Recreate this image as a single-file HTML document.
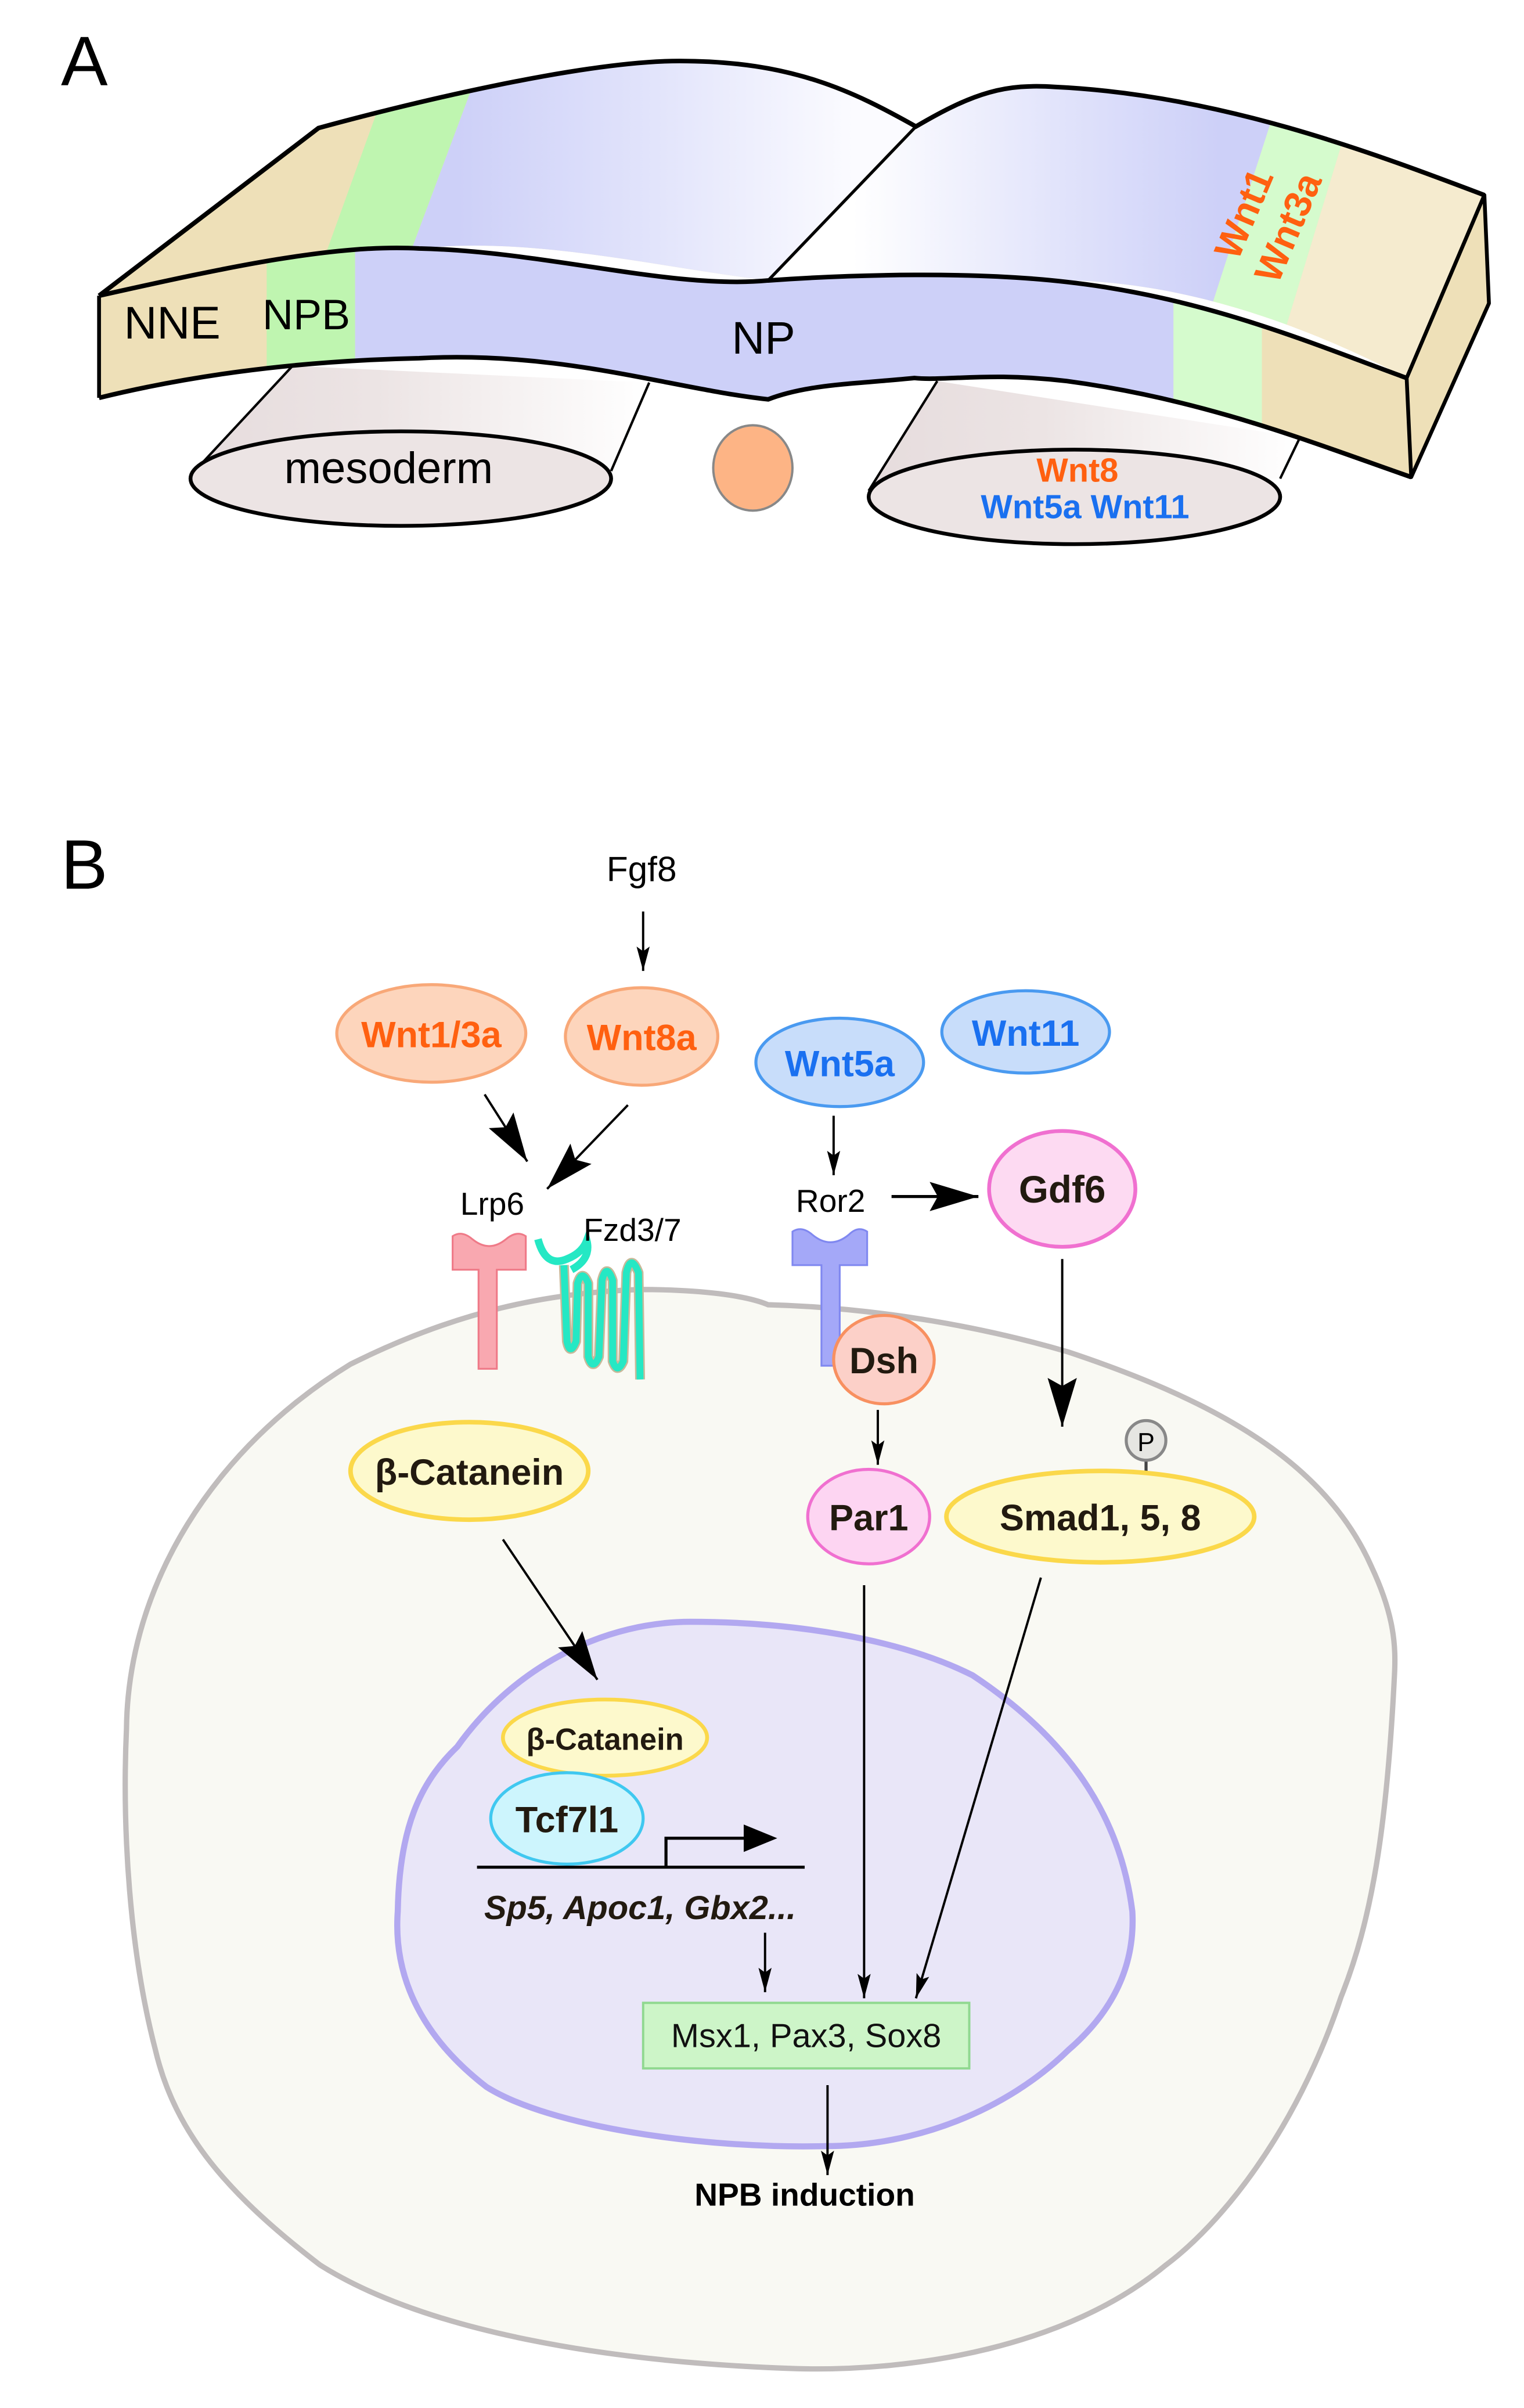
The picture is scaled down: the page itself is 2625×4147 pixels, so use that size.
<!DOCTYPE html>
<html><head><meta charset="utf-8"><style>
html,body{margin:0;padding:0;background:#fff;}
svg{display:block;}
text{font-family:"Liberation Sans Narrow","Liberation Sans",Arial,sans-serif;}
</style></head><body>
<svg width="2625" height="4147" viewBox="0 0 1000 1579.8" xmlns="http://www.w3.org/2000/svg">
<defs>
<marker id="ah" markerUnits="userSpaceOnUse" markerWidth="16" markerHeight="28" refX="26" refY="7" viewBox="0 0 26 14" orient="auto">
<path d="M0,0 L26,7 L0,14 L5,7 Z" fill="#000"/></marker>
<marker id="ahL" markerUnits="userSpaceOnUse" markerWidth="32" markerHeight="20" refX="30" refY="9" viewBox="0 0 30 18" orient="auto">
<path d="M0,0 L30,9 L0,18 L5,9 Z" fill="#000"/></marker>
<linearGradient id="npL" gradientUnits="userSpaceOnUse" x1="300" y1="140" x2="560" y2="140"><stop offset="0" stop-color="#cdd0f8"/><stop offset="0.5" stop-color="#e2e4fb"/><stop offset="1" stop-color="#fbfbff"/></linearGradient>
<linearGradient id="npR" gradientUnits="userSpaceOnUse" x1="560" y1="140" x2="800" y2="140"><stop offset="0" stop-color="#ffffff"/><stop offset="0.55" stop-color="#e2e4fb"/><stop offset="1" stop-color="#cdd0f8"/></linearGradient>
<linearGradient id="tube" x1="0" x2="1" y1="0" y2="0"><stop offset="0" stop-color="#e6dcdd"/><stop offset="0.4" stop-color="#ece4e4"/><stop offset="1" stop-color="#ffffff"/></linearGradient>
<clipPath id="topc"><path d="M65,194 L209,84 C260,70 380,40 446,40 C520,40 560,60 601,83 C640,60 660,55 692,57 C800,62 900,100 974,128 L923,248 C860,215 780,185 700,184 C660,182 620,180 504,184 C430,175 350,155 275,163 C180,172 100,185 65,194 Z"/></clipPath>
<clipPath id="frontc"><path d="M65,194 C150,175 220,160 275,163 C360,165 440,190 504,184 C560,180 640,178 700,185 C790,195 860,225 923,248 L926,313 C860,290 790,262 700,250 C650,244 620,250 600,248 C560,252 530,252 504,262 C440,255 370,230 275,235 C180,237 110,250 65,261 Z"/></clipPath>
</defs>

<text x="40" y="56" font-size="46" fill="#000">A</text>

<polygon points="125,312 192,240 426,251 401,309" fill="url(#tube)"/>
<line x1="125" y1="312" x2="192" y2="240" stroke="#000" stroke-width="1.6"/>
<line x1="401" y1="309" x2="426" y2="251" stroke="#000" stroke-width="1.6"/>
<ellipse cx="263" cy="314" rx="138" ry="31" fill="#ece4e4" stroke="#000" stroke-width="2.5"/>
<polygon points="570,322 615,250 853,287 840,314" fill="url(#tube)"/>
<line x1="570" y1="322" x2="615" y2="250" stroke="#000" stroke-width="1.6"/>
<line x1="840" y1="314" x2="853" y2="287" stroke="#000" stroke-width="1.6"/>
<ellipse cx="705" cy="326" rx="135" ry="31" fill="#ece4e4" stroke="#000" stroke-width="2.5"/>
<ellipse cx="494" cy="307" rx="26" ry="28" fill="#fdb485" stroke="#888" stroke-width="1.5"/>

<g clip-path="url(#topc)">
<rect x="0" y="0" width="1000" height="300" fill="#eee0b8"/>
<polygon points="263,30 180,260 234,260 320,30" fill="#bff5b0"/>
<polygon points="320,30 652,30 431,260 234,260" fill="url(#npL)"/>
<polygon points="652,30 850,30 776,260 431,260" fill="url(#npR)"/>
<polygon points="850,30 776,260 830,260 900,30" fill="#d5fbcd"/>
<polygon points="900,30 830,260 1000,260 1000,30" fill="#f5ebcf"/>
</g>
<g clip-path="url(#frontc)">
<rect x="0" y="150" width="1000" height="200" fill="#eee0b8"/>
<rect x="175" y="150" width="58" height="200" fill="#bff5b0"/>
<rect x="233" y="150" width="537" height="200" fill="#cdd0f8"/>
<rect x="770" y="150" width="58" height="200" fill="#d5fbcd"/>
</g>
<polygon points="923,248 974,128 977,199 926,313" fill="#eee0b8" stroke="#000" stroke-width="2.5" stroke-linejoin="round"/>
<path d="M65,194 L209,84 C260,70 380,40 446,40 C520,40 560,60 601,83 C640,60 660,55 692,57 C800,62 900,100 974,128" fill="none" stroke="#000" stroke-width="3"/>
<path d="M65,194 C150,175 220,160 275,163 C360,165 440,190 504,184 C560,180 640,178 700,185 C790,195 860,225 923,248" fill="none" stroke="#000" stroke-width="3"/>
<path d="M65,261 C110,250 180,237 275,235 C370,230 440,255 504,262 C530,252 560,252 600,248 C620,250 650,244 700,250 C790,262 860,290 926,313" fill="none" stroke="#000" stroke-width="3"/>
<line x1="65" y1="194" x2="65" y2="261" stroke="#000" stroke-width="2.5"/>
<line x1="601" y1="83" x2="504" y2="184" stroke="#000" stroke-width="2"/>

<text x="113" y="222" font-size="30" text-anchor="middle">NNE</text>
<text x="201" y="216" font-size="28" text-anchor="middle">NPB</text>
<text x="501" y="232" font-size="30" text-anchor="middle">NP</text>
<text x="255" y="317" font-size="29" text-anchor="middle">mesoderm</text>
<text x="707" y="316" font-size="22" font-weight="bold" fill="#ff6010" text-anchor="middle">Wnt8</text>
<text x="712" y="340" font-size="22" font-weight="bold" fill="#1a70f0" text-anchor="middle">Wnt5a Wnt11</text>
<text transform="translate(818,141) rotate(-67)" font-size="25" font-weight="bold" fill="#ff6010" text-anchor="middle" dominant-baseline="middle">Wnt1</text>
<text transform="translate(847,150) rotate(-67)" font-size="25" font-weight="bold" fill="#ff6010" text-anchor="middle" dominant-baseline="middle">Wnt3a</text>

<text x="40" y="583" font-size="46">B</text>

<path d="M83,1134 C84,1040 140,950 230,895 C300,860 360,848 420,846 C460,846 490,850 504,856 C580,858 650,872 701,887 C800,920 870,960 900,1028 C915,1060 916,1080 915,1099 C910,1200 900,1260 880,1310 C850,1400 800,1460 765,1486 C700,1540 600,1556 523,1554 C400,1550 280,1530 210,1486 C150,1440 115,1400 102,1345 C85,1280 80,1200 83,1134 Z" fill="#f9f9f3" stroke="#c0bcbc" stroke-width="3.5"/>

<path d="M453,1064 C520,1064 590,1075 638,1099 C700,1140 735,1190 743,1254 C745,1290 730,1320 701,1345 C660,1385 600,1408 542,1408 C460,1410 360,1395 319,1369 C275,1335 258,1295 261,1254 C262,1200 275,1170 300,1146 C340,1090 400,1064 453,1064 Z" fill="#e9e6f8" stroke="#b2a8f0" stroke-width="4"/>

<path d="M297,811 Q303,807 310,813 Q321,822 332,813 Q339,807 345,811 L345,833 L326,833 L326,898 L314,898 L314,833 L297,833 Z" fill="#f9a8b0" stroke="#ef7a88" stroke-width="1.2"/>
<path d="M353,813 Q358,832 372,826 Q382,822 385,814 Q388,826 375,833" fill="none" stroke="#25e8c4" stroke-width="5"/>
<path d="M370,830 L372,880 Q374,890 378,880 L379,842 Q382,832 386,842 L386,890 Q389,900 393,890 L395,840 Q398,828 402,840 L402,893 Q405,902 409,893 L411,835 Q414,822 419,835 L420,905" fill="none" stroke="#c7b99a" stroke-width="6.5" stroke-linejoin="round"/>
<path d="M370,830 L372,880 Q374,890 378,880 L379,842 Q382,832 386,842 L386,890 Q389,900 393,890 L395,840 Q398,828 402,840 L402,893 Q405,902 409,893 L411,835 Q414,822 419,835 L420,905" fill="none" stroke="#25e8c4" stroke-width="4.5" stroke-linejoin="round"/>
<path d="M520,808 Q526,804 533,810 Q545,820 557,810 Q563,804 569,808 L569,830 L551,830 L551,896 L539,896 L539,830 L520,830 Z" fill="#a4a8f8" stroke="#8088f0" stroke-width="1.2"/>

<text x="421" y="578" font-size="23" text-anchor="middle">Fgf8</text>
<line x1="422" y1="598" x2="422" y2="637" stroke="#000" stroke-width="1.5" marker-end="url(#ah)"/>
<ellipse cx="283" cy="678" rx="62" ry="32" fill="#fdd5bc" stroke="#f8a878" stroke-width="2"/>
<text x="283" y="687" font-size="24" font-weight="bold" fill="#ff6010" text-anchor="middle">Wnt1/3a</text>
<ellipse cx="421" cy="680" rx="50" ry="32" fill="#fdd5bc" stroke="#f8a878" stroke-width="2"/>
<text x="421" y="689" font-size="24" font-weight="bold" fill="#ff6010" text-anchor="middle">Wnt8a</text>
<ellipse cx="551" cy="697" rx="55" ry="29" fill="#c8ddfa" stroke="#4a9af0" stroke-width="2"/>
<text x="551" y="706" font-size="24" font-weight="bold" fill="#1a70f0" text-anchor="middle">Wnt5a</text>
<ellipse cx="673" cy="677" rx="55" ry="27" fill="#c8ddfa" stroke="#4a9af0" stroke-width="2"/>
<text x="673" y="686" font-size="24" font-weight="bold" fill="#1a70f0" text-anchor="middle">Wnt11</text>

<line x1="318" y1="718" x2="346" y2="762" stroke="#000" stroke-width="1.5" marker-end="url(#ahL)"/>
<line x1="412" y1="725" x2="359" y2="780" stroke="#000" stroke-width="1.5" marker-end="url(#ahL)"/>
<line x1="547" y1="732" x2="547" y2="771" stroke="#000" stroke-width="1.5" marker-end="url(#ah)"/>
<text x="323" y="797" font-size="21" text-anchor="middle">Lrp6</text>
<text x="415" y="814" font-size="21" text-anchor="middle">Fzd3/7</text>
<text x="545" y="795" font-size="21" text-anchor="middle">Ror2</text>
<line x1="585" y1="785" x2="642" y2="785" stroke="#000" stroke-width="2" marker-end="url(#ahL)"/>
<ellipse cx="697" cy="780" rx="48" ry="38" fill="#fddaf2" stroke="#f070d0" stroke-width="2.5"/>
<text x="697" y="789" font-size="25" font-weight="bold" fill="#221a10" text-anchor="middle">Gdf6</text>
<line x1="697" y1="826" x2="697" y2="936" stroke="#000" stroke-width="1.5" marker-end="url(#ahL)"/>

<ellipse cx="580" cy="892" rx="33" ry="29" fill="#fcd0c8" stroke="#f89060" stroke-width="2"/>
<text x="580" y="901" font-size="24" font-weight="bold" fill="#221a10" text-anchor="middle">Dsh</text>
<line x1="576" y1="925" x2="576" y2="961" stroke="#000" stroke-width="1.5" marker-end="url(#ah)"/>
<ellipse cx="570" cy="995" rx="40" ry="31" fill="#fdd5f2" stroke="#f070d0" stroke-width="2"/>
<text x="570" y="1004" font-size="24" font-weight="bold" fill="#221a10" text-anchor="middle">Par1</text>
<line x1="752" y1="957" x2="752" y2="968" stroke="#444" stroke-width="2"/>
<circle cx="752" cy="945" r="13" fill="#e6e6e2" stroke="#888" stroke-width="2"/>
<text x="752" y="952" font-size="17" text-anchor="middle">P</text>
<ellipse cx="722" cy="995" rx="101" ry="30" fill="#fdf9cc" stroke="#fbd84a" stroke-width="3"/>
<text x="722" y="1004" font-size="24" font-weight="bold" fill="#221a10" text-anchor="middle">Smad1, 5, 8</text>
<ellipse cx="308" cy="965" rx="78" ry="32" fill="#fdf9cc" stroke="#fbd84a" stroke-width="3"/>
<text x="308" y="974" font-size="24" font-weight="bold" fill="#221a10" text-anchor="middle">β-Catanein</text>
<line x1="330" y1="1010" x2="392" y2="1102" stroke="#000" stroke-width="1.5" marker-end="url(#ahL)"/>

<ellipse cx="397" cy="1140" rx="67" ry="25" fill="#fdf9cc" stroke="#fbd84a" stroke-width="2.5"/>
<text x="397" y="1148" font-size="20" font-weight="bold" fill="#221a10" text-anchor="middle">β-Catanein</text>
<ellipse cx="372" cy="1193" rx="50" ry="30" fill="#cdf5fd" stroke="#40c8f0" stroke-width="2"/>
<text x="372" y="1202" font-size="24" font-weight="bold" fill="#221a10" text-anchor="middle">Tcf7l1</text>
<line x1="313" y1="1225" x2="528" y2="1225" stroke="#000" stroke-width="2"/>
<polyline points="437,1225 437,1206 492,1206" fill="none" stroke="#000" stroke-width="2"/>
<polygon points="488,1197 510,1206 488,1215" fill="#000"/>
<text x="420" y="1259" font-size="22" font-weight="bold" font-style="italic" fill="#221a10" text-anchor="middle">Sp5, Apoc1, Gbx2...</text>
<line x1="502" y1="1268" x2="502" y2="1307" stroke="#000" stroke-width="1.5" marker-end="url(#ah)"/>
<line x1="567" y1="1040" x2="567" y2="1311" stroke="#000" stroke-width="1.5" marker-end="url(#ah)"/>
<line x1="683" y1="1035" x2="601" y2="1311" stroke="#000" stroke-width="1.5" marker-end="url(#ah)"/>
<rect x="422" y="1314" width="214" height="43" fill="#cdf5c8" stroke="#90d890" stroke-width="1.5"/>
<text x="529" y="1343" font-size="22" fill="#111" text-anchor="middle">Msx1, Pax3, Sox8</text>
<line x1="543" y1="1368" x2="543" y2="1427" stroke="#000" stroke-width="1.5" marker-end="url(#ah)"/>
<text x="528" y="1447" font-size="21" font-weight="bold" text-anchor="middle">NPB induction</text>
</svg>
</body></html>
